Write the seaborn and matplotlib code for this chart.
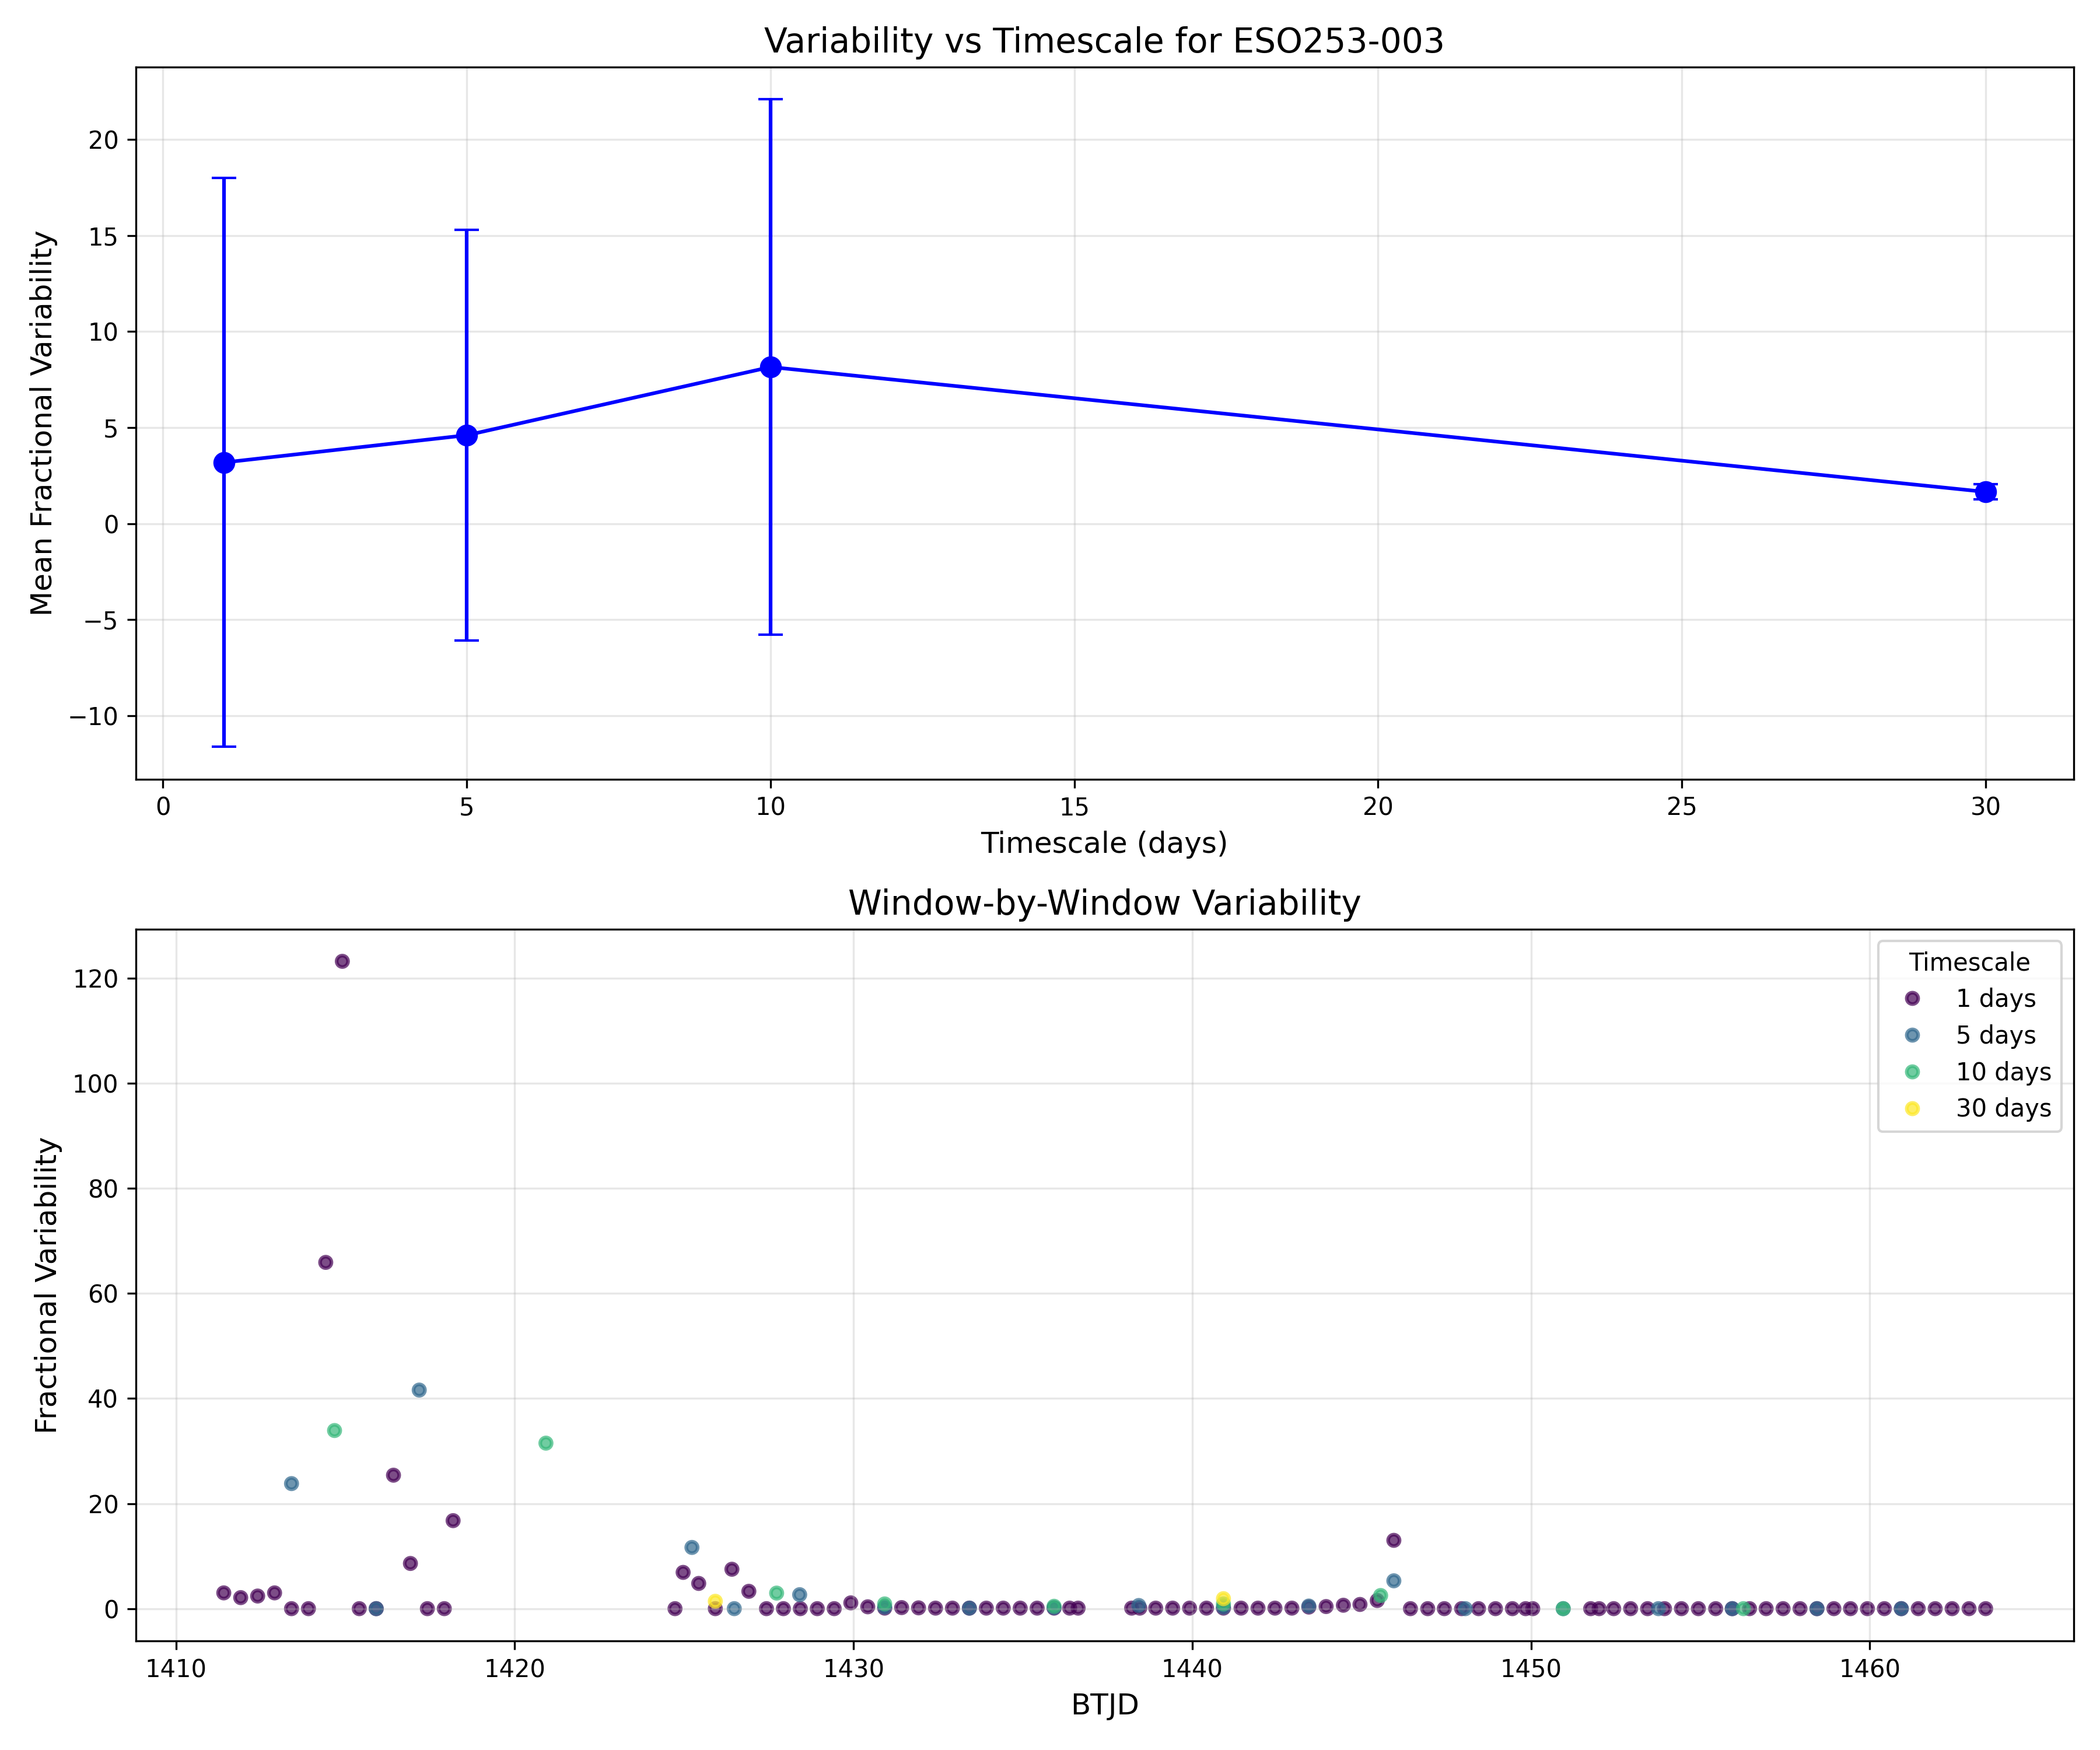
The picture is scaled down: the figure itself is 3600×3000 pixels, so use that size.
import numpy as np
import pandas as pd
import matplotlib
matplotlib.use("Agg")
import matplotlib.pyplot as plt
import seaborn as sns

# summary per timescale
timescales = [1, 5, 10, 30]
mean_var = [3.18, 4.6, 8.15, 1.65]
std_var = [14.8, 10.7, 13.93, 0.39]

# window-by-window values (bottom panel)
t_1d = [1411.41, 1411.91, 1412.41, 1412.91, 1413.41, 1413.91, 1414.42, 1414.91, 1415.41, 1415.91,
        1416.42, 1416.92, 1417.42, 1417.92, 1418.18,
        1424.73, 1424.97, 1425.43, 1425.92, 1426.41, 1426.91, 1427.43, 1427.93, 1428.43, 1428.93,
        1429.43, 1429.92, 1430.42, 1430.92, 1431.42, 1431.92, 1432.42, 1432.92, 1433.42, 1433.92,
        1434.42, 1434.92, 1435.42, 1435.92, 1436.38, 1436.63,
        1438.21, 1438.45, 1438.92, 1439.42, 1439.92, 1440.42, 1440.92, 1441.44, 1441.94, 1442.44,
        1442.94, 1443.44, 1443.95, 1444.46, 1444.95, 1445.46, 1445.95, 1446.44, 1446.95, 1447.44,
        1447.95, 1448.45, 1448.95, 1449.45, 1449.84, 1450.05,
        1451.76, 1452.01, 1452.44, 1452.94, 1453.44, 1453.94, 1454.44, 1454.94, 1455.45, 1455.94,
        1456.45, 1456.94, 1457.44, 1457.94, 1458.44, 1458.94, 1459.43, 1459.93, 1460.43, 1460.93,
        1461.43, 1461.93, 1462.43, 1462.93, 1463.42]
v_1d = [3.0, 2.1, 2.4, 3.0, 0.0, 0.0, 65.9, 123.2, 0.0, 0.0,
        25.4, 8.6, 0.0, 0.0, 16.75,
        0.0, 6.9, 4.8, 0.0, 7.5, 3.3, 0.0, 0.0, 0.0, 0.0,
        0.0, 1.1, 0.35, 0.1, 0.2, 0.15, 0.1, 0.1, 0.1, 0.1,
        0.1, 0.1, 0.1, 0.1, 0.1, 0.1,
        0.1, 0.1, 0.1, 0.1, 0.1, 0.1, 0.1, 0.1, 0.1, 0.1,
        0.1, 0.3, 0.4, 0.65, 0.8, 1.55, 13.0, 0.0, 0.0, 0.0,
        0.0, 0.0, 0.0, 0.0, 0.0, 0.0,
        0.0, 0.0, 0.0, 0.0, 0.0, 0.0, 0.0, 0.0, 0.0, 0.0,
        0.0, 0.0, 0.0, 0.0, 0.0, 0.0, 0.0, 0.0, 0.0, 0.0,
        0.0, 0.0, 0.0, 0.0, 0.0]

t_5d = [1413.41, 1415.91, 1417.18, 1425.23, 1426.48, 1428.41, 1430.92, 1433.42, 1435.92, 1438.42,
        1440.92, 1443.44, 1445.95, 1448.06, 1450.95, 1453.76, 1455.94, 1458.44, 1460.93]
v_5d = [23.8, 0.0, 41.6, 11.65, 0.0, 2.66, 0.3, 0.1, 0.2, 0.6,
        0.3, 0.5, 5.3, 0.0, 0.0, 0.0, 0.0, 0.0, 0.0]

t_10d = [1414.68, 1420.92, 1427.73, 1430.92, 1435.92, 1440.92, 1445.56, 1450.95, 1456.27]
v_10d = [33.9, 31.5, 2.96, 0.9, 0.45, 0.9, 2.5, 0.0, 0.0]

t_30d = [1425.92, 1440.92]
v_30d = [1.4, 1.9]

labels = ['1 days', '5 days', '10 days', '30 days']

# long table for seaborn
frames = []
for lab, t, v in zip(labels, [t_1d, t_5d, t_10d, t_30d], [v_1d, v_5d, v_10d, v_30d]):
    frames.append(pd.DataFrame({'BTJD': t, 'var': v, 'Timescale': lab}))
df = pd.concat(frames, ignore_index=True)

colors = plt.cm.viridis(np.linspace(0, 1, len(labels)))
palette = dict(zip(labels, colors))

fig, (ax1, ax2) = plt.subplots(2, 1, figsize=(12, 10))

# top: mean variability vs timescale
ax1.errorbar(timescales, mean_var, yerr=std_var, fmt='o-', color='blue',
             capsize=5, markersize=8)
ax1.set_xlabel('Timescale (days)', fontsize=12)
ax1.set_ylabel('Mean Fractional Variability', fontsize=12)
ax1.set_title('Variability vs Timescale for ESO253-003', fontsize=14)
ax1.grid(True, alpha=0.3)

# bottom: every window
sns.scatterplot(data=df, x='BTJD', y='var', hue='Timescale', hue_order=labels,
                palette=palette, alpha=0.7, s=22, edgecolor='face', linewidth=1.5, ax=ax2)
ax2.set_xlabel('BTJD', fontsize=12)
ax2.set_ylabel('Fractional Variability', fontsize=12)
ax2.set_title('Window-by-Window Variability', fontsize=14)
ax2.legend(title='Timescale', loc='upper right')
ax2.grid(True, alpha=0.3)

plt.tight_layout()
plt.savefig('out.png', dpi=300)
